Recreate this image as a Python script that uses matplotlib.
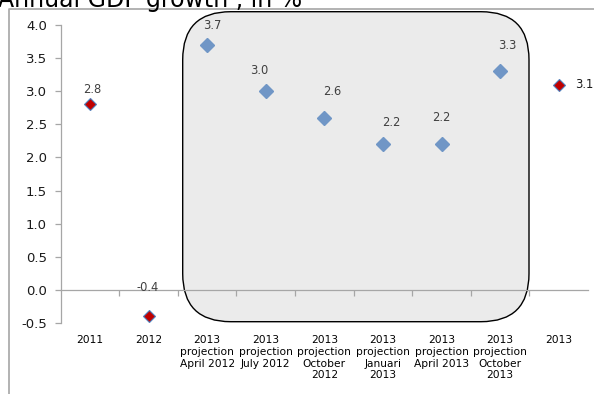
import matplotlib
matplotlib.use("Agg")
import matplotlib.pyplot as plt
from matplotlib.patches import FancyBboxPatch
from matplotlib.lines import Line2D
from matplotlib.transforms import Affine2D, blended_transform_factory

# --- data -------------------------------------------------------------
categories = [
    "2011",
    "2012",
    "2013\nprojection\nApril 2012",
    "2013\nprojection\nJuly 2012",
    "2013\nprojection\nOctober\n2012",
    "2013\nprojection\nJanuari\n2013",
    "2013\nprojection\nApril 2013",
    "2013\nprojection\nOctober\n2013",
    "2013",
]
actual = [2.8, -0.4, None, None, None, None, None, None, 3.1]
projection = [None, None, 3.7, 3.0, 2.6, 2.2, 2.2, 3.3, None]
yticks = [-0.5, 0.0, 0.5, 1.0, 1.5, 2.0, 2.5, 3.0, 3.5, 4.0]
title = "Annual GDP growth , in %"

# label offsets in pixels (dx, dy) for each category
label_offsets = [(2, 15), (-1, 29), (5, 19), (-7, 21), (8, 26),
                 (8, 22), (0, 27), (7, 26), (24, 0)]

W, H = 594, 394
fig = plt.figure(figsize=(W / 100, H / 100), dpi=100)
fig.patch.set_facecolor("white")
pix = Affine2D().scale(1 / W, 1 / H) + fig.transFigure

# outer chart frame
fig.add_artist(Line2D([9, 9, W + 5], [-5, H - 9.3, H - 9.3], transform=pix,
                      color="#a6a6a6", lw=1.2))

# title (partly above the canvas)
fig.text(-2 / W, 1 - 6.5 / H, title, fontsize=17, color="black",
         ha="left", va="baseline", transform=fig.transFigure)

# rounded highlight box around the projections
box = FancyBboxPatch((182.7, H - 321.7), 346.3, 310.0,
                     boxstyle="round,pad=0,rounding_size=48",
                     transform=pix, facecolor="#ebebeb", edgecolor="black",
                     lw=1.0, zorder=0)
fig.add_artist(box)

ax = fig.add_axes([60.7 / W, 1 - 323 / H, (588 - 60.7) / W, (323 - 25) / H])
ax.patch.set_visible(False)
ax.set_zorder(2)

n = len(categories)
xs = list(range(n))
ax.set_xlim(-0.5, n - 0.5)
ax.set_ylim(-0.5, 4.0)

gray = "#a6a6a6"
for s in ["top", "right"]:
    ax.spines[s].set_visible(False)
ax.spines["left"].set_color(gray)
ax.spines["left"].set_linewidth(0.9)
ax.spines["bottom"].set_position(("data", 0))
ax.spines["bottom"].set_color(gray)
ax.spines["bottom"].set_linewidth(0.9)

ax.set_yticks(yticks)
ax.set_yticklabels([f"{v:.1f}" for v in yticks], fontsize=9.5, color="#1a1a1a")
ax.tick_params(axis="y", direction="out", length=4, width=0.9, color=gray, pad=6)

ax.set_xticks([i + 0.5 for i in range(n - 1)])
ax.set_xticklabels([])
ax.tick_params(axis="x", direction="out", length=4, width=0.9, color=gray)

# category labels below the plot area
bt = blended_transform_factory(ax.transData, ax.transAxes)
for i, lab in enumerate(categories):
    ax.annotate(lab, xy=(i, 0), xycoords=bt, xytext=(0, -12),
                textcoords="offset pixels", ha="center", va="top",
                fontsize=7.7, linespacing=1.22, color="black",
                annotation_clip=False)

# markers
blue = "#7096c6"
red = "#c00000"
px = [x for x, v in zip(xs, projection) if v is not None]
py = [v for v in projection if v is not None]
ax.plot(px, py, ls="none", marker="D", ms=7.0, color=blue, mec=blue,
        zorder=3, clip_on=False)
axs = [x for x, v in zip(xs, actual) if v is not None]
ays = [v for v in actual if v is not None]
ax.plot(axs, ays, ls="none", marker="D", ms=6.4, color=red, mec="#4f81bd",
        mew=0.8, zorder=3, clip_on=False)

# value labels
for i in xs:
    v = actual[i] if actual[i] is not None else projection[i]
    dx, dy = label_offsets[i]
    if dy == 0:
        ax.annotate(f"{v:.1f}", xy=(i, v), xytext=(dx - 8, 0),
                    textcoords="offset pixels", ha="left", va="center",
                    fontsize=8.3, color="#1a1a1a", annotation_clip=False)
    else:
        ax.annotate(f"{v:.1f}", xy=(i, v), xytext=(dx, dy),
                    textcoords="offset pixels", ha="center", va="center",
                    fontsize=8.3, color="#404040", annotation_clip=False)

fig.savefig("out.png", dpi=100)
